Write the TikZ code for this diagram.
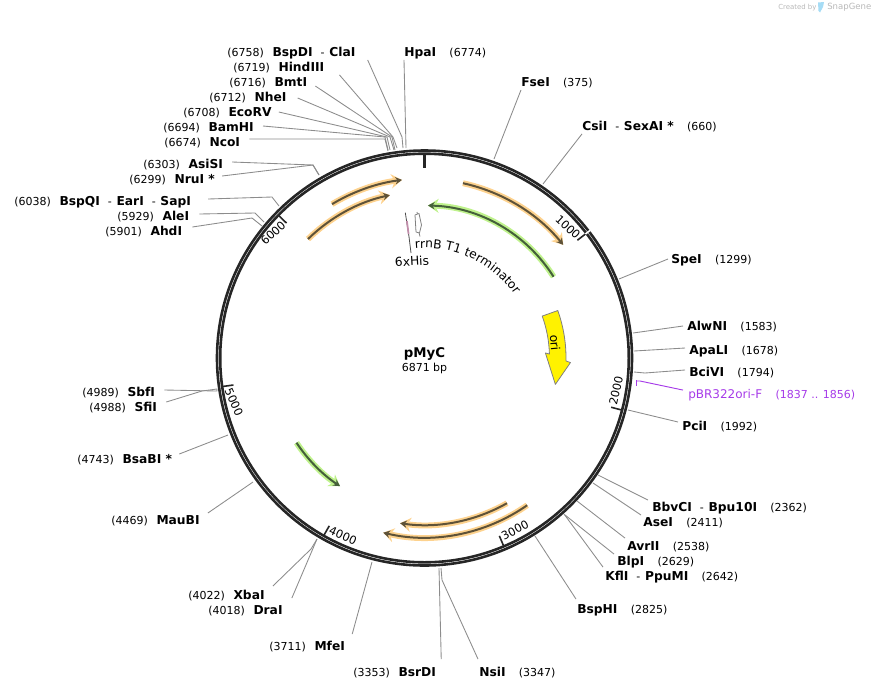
\documentclass[tikz,border=0pt]{standalone}
\usepackage{fontspec}
\setmainfont{DejaVu Sans}
\usetikzlibrary{calc,arrows.meta,decorations.text}
\definecolor{ringdark}{HTML}{262626}
\definecolor{cutgray}{HTML}{8C8C8C}
\definecolor{orfglow}{HTML}{FDD28E}
\definecolor{orfcore}{HTML}{5E5238}
\definecolor{markglow}{HTML}{BFF28C}
\definecolor{markcore}{HTML}{45603A}
\definecolor{primerpurple}{HTML}{A63BE8}
\definecolor{logogray}{HTML}{B8B8B8}
\definecolor{logoblue}{HTML}{A6DCF5}
\newcommand{\enz}[1]{{\fontsize{9.2pt}{11pt}\selectfont\bfseries #1}}
\newcommand{\bp}[1]{{\fontsize{8.25pt}{11pt}\selectfont(#1)}}
\newcommand{\gapl}{\hspace{6.5pt}}
\newcommand{\gapr}{\hspace{10pt}}
\newcommand{\dsh}{\hspace{6pt}{\fontsize{8.25pt}{11pt}\selectfont-}\hspace{3.5pt}}
\newcommand{\featarc}[5]{%
	\draw[#1] ($(ctr)+(#3:#5)$) arc (#3:#4:#5);
	\draw[#2] ($(ctr)+(#3:#5)$) arc (#3:#4:#5);}
\tikzset{
	site/.style={anchor=west, yshift=-0.75pt, inner xsep=0pt, inner ysep=0pt, text height=7.5pt, text depth=2.5pt},
	cutline/.style={draw=cutgray, line width=0.65pt, line join=round},
	ticklbl/.style={inner sep=0pt, font=\fontsize{8.5pt}{11pt}\selectfont},
	featlbl/.style={inner sep=0pt, font=\fontsize{9.2pt}{11pt}\selectfont},
	orfhalo/.style={draw=orfglow, line width=4.4pt, -{Stealth[length=8pt,width=10.5pt]}},
	orfline/.style={draw=orfcore, line width=1.5pt, -{Stealth[length=5pt,width=5.5pt]}},
	markhalo/.style={draw=markglow, line width=4.4pt, -{Stealth[length=8pt,width=10.5pt]}},
	markline/.style={draw=markcore, line width=1.5pt, -{Stealth[length=5pt,width=5.5pt]}},
}
\begin{document}
\begin{tikzpicture}[x=0.75pt, y=-0.75pt]
	\useasboundingbox (0,0) rectangle (875,690);
	\coordinate (ctr) at (424.5,358);

	% Ring and ticks
	\draw[ringdark, line width=1.95pt] (ctr) circle (207.5);
	\draw[ringdark, line width=1.95pt] (ctr) circle (204.3);
	\draw[ringdark, line width=2.2pt] (424.5,155) -- (424.5,168);
	\draw[white, line width=1.2pt] ($(ctr)+(-37.61:203)$) -- ($(ctr)+(-37.61:209)$);
	\draw[ringdark, line width=1.2pt] ($(ctr)+(-37.61:193)$) -- ($(ctr)+(-37.61:203)$);
	\draw[ringdark, line width=1.2pt] ($(ctr)+(14.78:193)$) -- ($(ctr)+(14.78:205)$);
	\draw[ringdark, line width=1.2pt] ($(ctr)+(67.17:193)$) -- ($(ctr)+(67.17:205)$);
	\draw[ringdark, line width=1.2pt] ($(ctr)+(119.57:193)$) -- ($(ctr)+(119.57:205)$);
	\draw[ringdark, line width=1.2pt] ($(ctr)+(171.96:193)$) -- ($(ctr)+(171.96:205)$);
	\draw[ringdark, line width=1.2pt] ($(ctr)+(224.35:193)$) -- ($(ctr)+(224.35:205)$);
	\node[ticklbl, rotate=-43] (tickA) at (568,227) {1000};
	\node[ticklbl, rotate=77] (tickB) at (616,391) {2000};
	\node[ticklbl, rotate=28] (tickC) at (515,530) {3000};
	\node[ticklbl, rotate=-24] (tickD) at (343,536) {4000};
	\node[ticklbl, rotate=-66] (tickE) at (234,402) {5000};
	\node[ticklbl, rotate=43] (tickF) at (273,233) {6000};

	% Feature arcs
	\featarc{orfhalo}{orfline}{-121}{-97.2}{179.5}
	\featarc{orfhalo}{orfline}{-134.4}{-102}{166.5}
	\featarc{orfhalo}{orfline}{-77.6}{-39.2}{179}
	\featarc{markhalo}{markline}{-32.2}{-88.7}{152.5}
	\featarc{orfhalo}{orfline}{60.4}{98.4}{167}
	\featarc{orfhalo}{orfline}{55.1}{103.3}{179.5}
	\featarc{markhalo}{markline}{146.5}{123.4}{153.5}

	% ori
	\draw[draw=gray, fill=yellow, line width=0.6pt, line join=round]
		($(ctr)+(-19.6:141.5)$) arc (-19.6:1.2:141.5) -- ($(ctr)+(1.8:146)$) -- ($(ctr)+(11.4:133.5)$)
		-- ($(ctr)+(-2.4:121)$) -- ($(ctr)+(-1.8:125)$) arc (-1.8:-19.6:125) -- cycle;
	\node[featlbl, rotate=-85] (orilbl) at (555,343) {ori};

	% Small features
	\draw[draw=black!70, line width=0.6pt] (405.3,212.7) -- (409,236.7) -- (411,253);
	\draw[draw=magenta!35!gray!80, line width=1.3pt] (406.9,221) -- (408.6,234);
	\draw[draw=gray, line width=0.6pt] (417,212) -- (417.5,214.5);
	\draw[draw=gray, line width=0.6pt] (419,232.5) -- (420,236.5);
	\draw[draw=gray, fill=white, line width=0.6pt, line join=round] (415,215) -- (419,213.5) -- (421.5,225) -- (419.5,233) -- (416,232) -- cycle;
	\node[featlbl, rotate=3] (hislbl) at (412,261) {6xHis};
	\path[decorate, decoration={text along path, text align=center,
		text={|\fontsize{9.2pt}{11pt}\selectfont|rrnB T1 terminator}}]
		($(ctr)+(-94:110)$) arc (-94:-36:110);

	% Centre
	\node[inner sep=0pt] (plasmid) at (424.5,353.5) {\fontsize{10pt}{11pt}\selectfont\bfseries pMyC};
	\node[inner sep=0pt] (plasmidlen) at (424.5,368.5) {\fontsize{8.25pt}{11pt}\selectfont 6871 bp};

	% Sites top left
	\node[site] (bspdi) at (227,52) {\bp{6758}\gapl\enz{BspDI}\dsh\enz{ClaI}};
	\coordinate (bspdiend) at (403,148);
	\draw[cutline] (bspdi.south east) ++(12,0) -- (402,137) -- (bspdiend);
	\node[site] (hindiii) at (233,67) {\bp{6719}\gapl\enz{HindIII}};
	\coordinate (hindiiiend) at (397,148);
	\draw[cutline] (hindiii.south east) ++(15,0) -- (393,137) -- (hindiiiend);
	\node[site] (bmti) at (229,82) {\bp{6716}\gapl\enz{BmtI}};
	\coordinate (bmtiend) at (395,150);
	\draw[cutline] (bmti.east) ++(8,3) -- (392,137) -- (bmtiend);
	\node[site] (nhei) at (209,97) {\bp{6712}\gapl\enz{NheI}};
	\coordinate (nheiend) at (394,150);
	\draw[cutline] (nhei.east) ++(11,0) -- (390,137) -- (nheiend);
	\node[site] (ecorv) at (183,112) {\bp{6708}\gapl\enz{EcoRV}};
	\coordinate (ecorvend) at (390,150);
	\draw[cutline] (ecorv.east) ++(7,-1) -- (387,137) -- (ecorvend);
	\node[site] (bamhi) at (163,127) {\bp{6694}\gapl\enz{BamHI}};
	\coordinate (bamhiend) at (388,150);
	\draw[cutline] (bamhi.east) ++(9,-2) -- (385,137) -- (bamhiend);
	\node[site] (ncoi) at (164,142) {\bp{6674}\gapl\enz{NcoI}};
	\coordinate (ncoiend) at (388,151);
	\draw[cutline] (ncoi.east) ++(9,-4) -- (385,139) -- (ncoiend);
	\node[site] (hpai) at (404,52) {\enz{HpaI}\gapr\bp{6774}};
	\coordinate (hpaiend) at (406,148);
	\draw[cutline] (hpai.south west) -- (hpaiend);

	% Sites left
	\node[site] (asisi) at (143,164) {\bp{6303}\gapl\enz{AsiSI}};
	\coordinate (asisiend) at (319,175);
	\draw[cutline] (asisi.east) ++(9,-3) -- (313,165) -- (asisiend);
	\node[site] (nrui) at (129,179) {\bp{6299}\gapl\enz{NruI *}};
	\draw[cutline] (nrui.east) ++(7,-4) -- (313,165) -- (asisiend);
	\node[site] (bspqi) at (14,201) {\bp{6038}\gapl\enz{BspQI}\dsh\enz{EarI}\dsh\enz{SapI}};
	\coordinate (bspqiend) at (279,206);
	\draw[cutline] (bspqi.east) ++(17,-3) -- (272,197) -- (bspqiend);
	\node[site] (alei) at (117,216) {\bp{5929}\gapl\enz{AleI}};
	\coordinate (aleiend) at (264,222);
	\draw[cutline] (alei.east) ++(10,-3) -- (255,213) -- (aleiend);
	\node[site] (ahdi) at (105,231) {\bp{5901}\gapl\enz{AhdI}};
	\coordinate (ahdiend) at (262,226);
	\draw[cutline] (ahdi.east) ++(10,-5) -- (252,218) -- (ahdiend);
	\node[site] (sbfi) at (82,392) {\bp{4989}\gapl\enz{SbfI}};
	\coordinate (sbfiend) at (217,389);
	\draw[cutline] (sbfi.east) ++(9,-3) -- (217,391) -- (sbfiend);
	\node[site] (sfii) at (89,407) {\bp{4988}\gapl\enz{SfiI}};
	\draw[cutline] (sfii.east) ++(9,-6) -- (202,391) -- (sbfiend);
	\node[site] (bsabi) at (77,459) {\bp{4743}\gapl\enz{BsaBI *}};
	\coordinate (bsabiend) at (228,435);
	\draw[cutline] (bsabi.east) ++(7,-6) -- (bsabiend);
	\node[site] (maubi) at (111,520) {\bp{4469}\gapl\enz{MauBI}};
	\coordinate (maubiend) at (253,482);
	\draw[cutline] (maubi.east) ++(8,-8) -- (maubiend);

	% Sites bottom
	\node[site] (xbai) at (188,595) {\bp{4022}\gapl\enz{XbaI}};
	\coordinate (xbaiend) at (317,539);
	\draw[cutline] (xbai.north east) ++(8,-3) -- (311,549) -- (xbaiend);
	\node[site] (drai) at (208,610) {\bp{4018}\gapl\enz{DraI}};
	\draw[cutline] (drai.north east) ++(9,-6) -- (xbaiend);
	\node[site] (mfei) at (269,646) {\bp{3711}\gapl\enz{MfeI}};
	\coordinate (mfeiend) at (372,562);
	\draw[cutline] (mfei.north east) ++(7,-6) -- (mfeiend);
	\node[site] (bsrdi) at (353,672) {\bp{3353}\gapl\enz{BsrDI}};
	\coordinate (bsrdiend) at (439,568);
	\draw[cutline] (bsrdi.north east) ++(5,-7) -- (bsrdiend);
	\node[site] (nsii) at (479,672) {\enz{NsiI}\gapr\bp{3347}};
	\coordinate (nsiiend) at (441,568);
	\draw[cutline] (nsii.north west) ++(-1,-7) -- (442,580) -- (nsiiend);

	% Sites right
	\node[site] (fsei) at (521,82) {\enz{FseI}\gapr\bp{375}};
	\coordinate (fseiend) at (494,159);
	\draw[cutline] (fsei.south west) -- (fseiend);
	\node[site] (csii) at (582,126) {\enz{CsiI}\dsh\enz{SexAI *}\gapr\bp{660}};
	\coordinate (csiiend) at (543,184);
	\draw[cutline] (csii.south west) -- (csiiend);
	\node[site] (spei) at (671,259) {\enz{SpeI}\gapr\bp{1299}};
	\coordinate (speiend) at (619,279);
	\draw[cutline] (spei.west) ++(-3,-1) -- (speiend);
	\node[site] (alwni) at (687,326) {\enz{AlwNI}\gapr\bp{1583}};
	\coordinate (alwniend) at (633,333);
	\draw[cutline] (alwni.west) ++(-4,-1) -- (alwniend);
	\node[site] (apali) at (689,350) {\enz{ApaLI}\gapr\bp{1678}};
	\coordinate (apaliend) at (634,351);
	\draw[cutline] (apali.west) ++(-4,-3) -- (apaliend);
	\node[site] (bcivi) at (689,372) {\enz{BciVI}\gapr\bp{1794}};
	\coordinate (bciviend) at (634,372);
	\draw[cutline] (bcivi.west) ++(-4,-3) -- (645,373) -- (bciviend);
	\node[site, text=primerpurple] (primer) at (688,394) {{\fontsize{9pt}{11pt}\selectfont pBR322ori-F}\gapr\bp{1837 .. 1856}};
	\draw[primerpurple, line width=1.3pt] (636.5,380) -- (636.5,386);
	\coordinate (primerend) at (636.5,381);
	\draw[primerpurple, line width=0.7pt, line join=round] (primer.north west) ++(-5,2) -- (640,381) -- (primerend);
	\node[site] (pcii) at (682,426) {\enz{PciI}\gapr\bp{1992}};
	\coordinate (pciiend) at (628,410);
	\draw[cutline] (pcii.west) ++(-4,-5) -- (pciiend);
	\node[site] (bbvci) at (652,507) {\enz{BbvCI}\dsh\enz{Bpu10I}\gapr\bp{2362}};
	\coordinate (bbvciend) at (598,475);
	\draw[cutline] (bbvci.north west) ++(-4,-1) -- (bbvciend);
	\node[site] (asei) at (643,522) {\enz{AseI}\gapr\bp{2411}};
	\coordinate (aseiend) at (593,483);
	\draw[cutline] (asei.west) ++(-2,-8) -- (aseiend);
	\node[site] (avrii) at (627,546) {\enz{AvrII}\gapr\bp{2538}};
	\coordinate (avriiend) at (577,501);
	\draw[cutline] (avrii.north west) ++(-2,-2) -- (avriiend);
	\node[site] (blpi) at (617,561) {\enz{BlpI}\gapr\bp{2629}};
	\coordinate (blpiend) at (565,515);
	\draw[cutline] (blpi.north west) ++(-3,-1) -- (blpiend);
	\node[site] (kfli) at (605,576) {\enz{KflI}\dsh\enz{PpuMI}\gapr\bp{2642}};
	\coordinate (kfliend) at (564,514);
	\draw[cutline] (kfli.north west) ++(-2,-3) -- (kfliend);
	\node[site] (bsphi) at (577,609) {\enz{BspHI}\gapr\bp{2825}};
	\coordinate (bsphiend) at (535,536);
	\draw[cutline] (bsphi.north west) ++(-1,-4) -- (bsphiend);

	% Logo
	\node[inner sep=0pt, anchor=west, text=logogray] (logotext) at (778,7.5) {\fontsize{5.2pt}{6pt}\selectfont Created by};
	\fill[logoblue] (818,2.5) -- (824,2) -- (823,7) -- (820,12.5) -- (818.5,11) -- cycle;
	\node[inner sep=0pt, anchor=west, text=logogray] (logoname) at (827,7.5) {\fontsize{6.4pt}{8pt}\selectfont SnapGene};
\end{tikzpicture}
\end{document}
